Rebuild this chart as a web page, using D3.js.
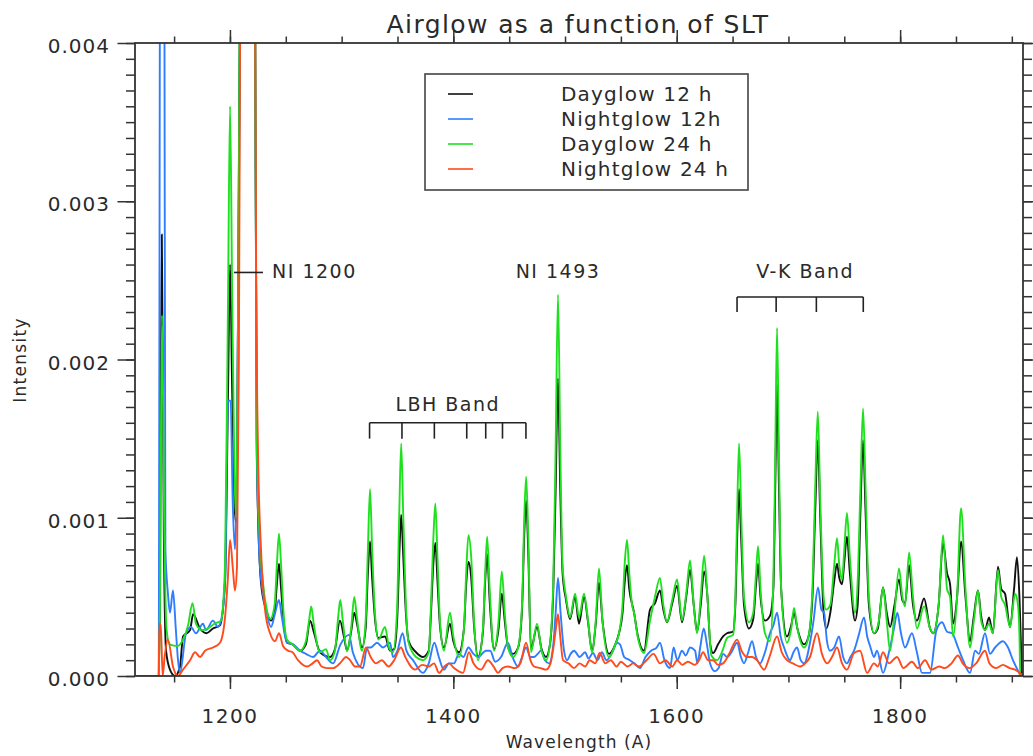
<!DOCTYPE html>
<html><head><meta charset="utf-8">
<script src="https://cdn.jsdelivr.net/npm/d3@7"></script>
<style>
body{margin:0;background:#fff}
svg{display:block}
text{font-family:"DejaVu Sans",sans-serif;fill:#2a2a2a}
</style>
</head><body>
<svg id="chart" width="1033" height="756"></svg>
<script>
// ---------------- DATA ----------------
const seriesNames = ["Dayglow 12 h", "Nightglow 12h", "Dayglow 24 h", "Nightglow 24 h"];
const xMajorTicks = [1200, 1400, 1600, 1800];
const xTickLabels = ["1200", "1400", "1600", "1800"];
const yMajorTicks = [0, 0.001, 0.002, 0.003, 0.004];
const yTickLabels = ["0.000", "0.001", "0.002", "0.003", "0.004"];
const lbhMarks = [1325, 1354, 1383, 1412, 1429, 1444, 1465];
const vkMarks = [1654, 1689, 1725, 1767];

// [wavelength (A), intensity]
const dayglow12 = [[1115,0],[1136.3,0],[1137.3,0.0005],[1139,0.00279],[1140.8,0.0009],[1142.8,0.00016],[1146.3,0.00004],[1150.8,0],[1155.3,0.00006],[1158,0.00025],[1164.3,0.00029],[1167,0.00039],[1173.2,0.0003],[1179,0.00027],[1184.8,0.0003],[1191.1,0.00032],[1195.6,0.0006],[1198.3,0.0018],[1200.1,0.0026],[1202,0.0018],[1204,0.0011],[1205.4,0.00097],[1207,0.002],[1209,0.0045],[1216,0.012],[1222.4,0.0045],[1224,0.0014],[1227.8,0.00059],[1232.3,0.00042],[1236.8,0.00035],[1240,0.0004],[1242,0.00058],[1243.9,0.00071],[1245.8,0.00055],[1248,0.00035],[1251.1,0.00021],[1256,0.0002],[1262.7,0.00016],[1268,0.0002],[1271.7,0.00035],[1275,0.00028],[1280.6,0.00015],[1289.6,0.00012],[1294,0.00017],[1298.5,0.00035],[1302,0.00025],[1304.8,0.00016],[1308.5,0.00028],[1311.3,0.0004],[1314,0.00032],[1318.2,0.00018],[1321.5,0.0003],[1323.5,0.00065],[1325.4,0.00085],[1327.3,0.00062],[1330,0.00035],[1333,0.00024],[1338.8,0.00025],[1343.3,0.00016],[1347,0.00017],[1350,0.0004],[1351.8,0.0008],[1353.3,0.00102],[1355.2,0.00075],[1357.5,0.0004],[1360,0.00022],[1366.6,0.00015],[1372.8,0.00012],[1378,0.00016],[1380,0.0004],[1382,0.0007],[1383.9,0.00084],[1385.8,0.0006],[1388,0.00032],[1391.6,0.00018],[1397,0.00033],[1400,0.00022],[1405.1,0.00015],[1409.5,0.0003],[1411.5,0.00058],[1413.5,0.00072],[1416,0.00062],[1418.5,0.00032],[1422.1,0.00012],[1426.5,0.00028],[1428.5,0.0006],[1430.3,0.00077],[1432.5,0.00048],[1436.4,0.00017],[1440.5,0.0003],[1443.4,0.00052],[1446,0.00035],[1449,0.00018],[1453.4,0.00014],[1458,0.00018],[1461.5,0.00042],[1463.5,0.0009],[1465.2,0.00111],[1467,0.0008],[1469.5,0.00017],[1474.9,0.00031],[1479,0.00017],[1483,0.00012],[1486.5,0.0002],[1489.5,0.00055],[1491.5,0.00115],[1493.7,0.00188],[1495.8,0.00115],[1497.8,0.00065],[1500.9,0.00048],[1504.5,0.00036],[1509,0.0005],[1512.5,0.00033],[1517,0.0005],[1520.6,0.00034],[1524.1,0.00016],[1527.5,0.00033],[1530.4,0.00059],[1533.5,0.00035],[1539.4,0.00014],[1545,0.0002],[1548.3,0.00027],[1551.5,0.0004],[1553.5,0.0006],[1555.5,0.0007],[1557.5,0.00055],[1561.8,0.0004],[1565,0.00026],[1570.7,0.00016],[1576.1,0.00042],[1580.5,0.00046],[1585,0.00054],[1588,0.00042],[1591.3,0.00034],[1596,0.00046],[1600.3,0.00057],[1604.7,0.00034],[1608.5,0.0005],[1611.9,0.00067],[1615.2,0.00045],[1618.2,0.00028],[1621.5,0.00045],[1624.5,0.00066],[1627.5,0.0005],[1630,0.0002],[1632.5,0.000145],[1637,0.0002],[1641.5,0.00025],[1645,0.00027],[1650.4,0.00028],[1652.5,0.00045],[1654,0.00085],[1655.8,0.00118],[1657.8,0.00085],[1660.2,0.00045],[1664.7,0.0003],[1668.5,0.00036],[1671,0.00058],[1672.8,0.00071],[1675,0.0005],[1679,0.00035],[1683.5,0.00038],[1686.5,0.00055],[1688.2,0.0012],[1689.8,0.00184],[1691.5,0.0012],[1693.5,0.00055],[1698.7,0.00025],[1702.5,0.00032],[1705,0.0004],[1708,0.0003],[1714,0.0002],[1718,0.00025],[1721.5,0.0005],[1724,0.00105],[1726.3,0.00149],[1728.5,0.001],[1731.5,0.0004],[1734,0.0003],[1737.5,0.0004],[1741,0.0006],[1743.5,0.00071],[1745.5,0.00062],[1748,0.00058],[1750,0.00072],[1752.4,0.00088],[1755,0.00065],[1759.6,0.00035],[1762,0.00045],[1764.5,0.00105],[1766.8,0.00149],[1769,0.00105],[1772,0.00045],[1776.6,0.00027],[1780,0.0003],[1784.7,0.00056],[1788,0.0004],[1791,0.00031],[1795,0.00045],[1799,0.00061],[1802,0.00048],[1804.4,0.00046],[1808,0.0007],[1811.5,0.00045],[1815.1,0.00035],[1821.4,0.00049],[1826.8,0.0003],[1829.5,0.00027],[1834.5,0.00045],[1838.4,0.00084],[1842,0.00065],[1844.7,0.00058],[1847.4,0.00033],[1851,0.0005],[1854.5,0.00085],[1858.5,0.0005],[1862.6,0.00022],[1866,0.00038],[1869.7,0.00054],[1872.5,0.00038],[1876,0.00029],[1879.6,0.00037],[1883,0.00027],[1887.6,0.00069],[1890.5,0.00055],[1893.9,0.00052],[1898.4,0.00031],[1902,0.00055],[1904.6,0.00075],[1906.8,0.0005],[1908.6,0.0001],[1909,0],[1910,0]];

const nightglow12 = [[1115,0],[1136.3,0],[1137.3,0.0045],[1139.3,0.008],[1141.3,0.0045],[1142.2,0.0008],[1144.5,0.00052],[1146.3,0.0004],[1149,0.00054],[1151.5,0.0003],[1153.5,0.0001],[1155.3,0.00002],[1160.7,0.00027],[1165,0.00031],[1169.6,0.00027],[1175.9,0.00033],[1178.6,0.00029],[1184.8,0.00035],[1189.3,0.00031],[1192,0.00035],[1195.6,0.0006],[1198.3,0.00174],[1200.6,0.00174],[1202.5,0.0011],[1204.5,0.0008],[1206,0.0012],[1208,0.003],[1209.5,0.0045],[1216,0.012],[1222.4,0.0045],[1224,0.0015],[1226.9,0.00069],[1232.3,0.00042],[1236.8,0.00031],[1240.5,0.0004],[1243.9,0.00048],[1246.5,0.00037],[1251.1,0.00021],[1256.5,0.0002],[1262.7,0.00016],[1268,0.00014],[1274.4,0.00012],[1280.6,0.00016],[1286,0.00012],[1292.3,0.00008],[1299,0.0002],[1306.5,0.00026],[1310.2,0.000145],[1319.1,0.00005],[1322.7,0.00018],[1326,0.00018],[1331.7,0.00021],[1337,0.00018],[1343.3,0.00021],[1346,0.00012],[1350,0.00016],[1354.5,0.00027],[1358,0.00016],[1363.9,0.0001],[1372.8,0.00002],[1378,0.00008],[1383,0.00021],[1387,0.00012],[1391.6,0.00004],[1396,0.00008],[1400.6,0.00008],[1405,0.00014],[1409,0.00012],[1413.5,0.00018],[1418,0.00014],[1422.1,0.00012],[1429.2,0.00016],[1433,0.00016],[1437.5,0.00009],[1442.7,0.00012],[1448.9,0.00021],[1453,0.00012],[1457.9,0.00006],[1461.5,0.00012],[1465.1,0.00018],[1469,0.00012],[1472.2,0.00012],[1475.5,0.00014],[1478.5,0.00016],[1482,0.0001],[1485.7,0.00008],[1489.5,0.0002],[1491.6,0.0004],[1493.7,0.00062],[1496,0.0004],[1499.1,0.00016],[1501.8,0.0001],[1505,0.00014],[1508.1,0.00016],[1513,0.00012],[1518,0.00015],[1521,0.00011],[1525,0.000145],[1529,0.0001],[1533,0.00015],[1537,0.0001],[1543,0.00016],[1546.5,0.00021],[1549.2,0.0002],[1553,0.00012],[1558,0.0001],[1562,0.00008],[1567.1,0.00005],[1572,0.00012],[1577,0.00016],[1582,0.00018],[1585,0.00021],[1589,0.0001],[1594,0.00005],[1597.2,0.00018],[1600.5,0.0001],[1604.7,0.00016],[1608,0.00013],[1612,0.00018],[1616.4,0.00016],[1618.5,0.00008],[1621,0.00018],[1624.2,0.0003],[1627,0.0002],[1629.8,0.00008],[1634,0.00003],[1637.5,0.00005],[1641.5,0.00014],[1645,0.00012],[1649,0.00015],[1654,0.00021],[1657.5,0.00012],[1660.2,0.00008],[1664,0.00015],[1667.4,0.00022],[1671,0.00012],[1674.6,0.00008],[1679,0.00015],[1683.5,0.00027],[1686.5,0.00032],[1689.8,0.0004],[1693,0.00025],[1696.1,0.00018],[1701.4,0.0001],[1704.5,0.00015],[1707.7,0.00018],[1711,0.0001],[1714,0.00008],[1719.3,0.00021],[1722.5,0.00035],[1726.5,0.00056],[1729.5,0.00042],[1731.9,0.0004],[1734.5,0.00022],[1737.2,0.00016],[1741,0.00018],[1745.3,0.00025],[1749,0.00012],[1752.4,0.00008],[1755.5,0.00012],[1758.7,0.00016],[1763,0.00026],[1767.7,0.00037],[1770.5,0.00025],[1773.1,0.00019],[1776.6,0.00012],[1779.3,0.00016],[1784.7,0.00002],[1790,0.00015],[1794.5,0.0003],[1797.5,0.0004],[1800.5,0.00028],[1804.4,0.00018],[1810.6,0.00027],[1815,0.00015],[1819.6,0.00002],[1826.8,0.00002],[1832.5,0.00029],[1837.5,0.00034],[1842,0.00028],[1846.5,0.00027],[1851.8,0.00018],[1856.3,0.0001],[1862.6,0.00002],[1867.1,0.00016],[1870.5,0.00014],[1876,0.00027],[1880.5,0.00014],[1885,0.00018],[1892,0.00022],[1896.6,0.00018],[1901,0.0001],[1906.5,0.00002],[1908,0],[1910,0]];

const dayglow24 = [[1115,0],[1136.3,0],[1137.2,0.00035],[1139.2,0.00228],[1141.3,0.0009],[1143.2,0.0003],[1146,0.0002],[1153,0.00019],[1158,0.00023],[1162.5,0.00032],[1166.5,0.00046],[1169.6,0.00033],[1175,0.00029],[1180,0.0003],[1186,0.00033],[1192,0.00035],[1195.6,0.0007],[1198.3,0.0024],[1200.1,0.0036],[1202,0.0024],[1204,0.0013],[1205.4,0.001],[1207,0.002],[1209,0.0045],[1216,0.012],[1222.4,0.0045],[1224,0.0015],[1226.5,0.0009],[1229.6,0.00059],[1233,0.00042],[1236,0.00036],[1240,0.00045],[1242,0.0007],[1243.9,0.0009],[1245.8,0.0007],[1248,0.0004],[1251.1,0.00023],[1256,0.0002],[1262.7,0.00016],[1268,0.00022],[1271,0.00036],[1272.8,0.00044],[1275,0.00033],[1280.6,0.00015],[1286,0.00017],[1289.6,0.0001],[1294,0.00016],[1297,0.00038],[1298.8,0.00048],[1301,0.00035],[1304.8,0.00016],[1308.5,0.0003],[1311.3,0.0005],[1313.5,0.00038],[1318.2,0.00016],[1321.5,0.00035],[1323.5,0.0008],[1325.4,0.00118],[1327.3,0.0008],[1330,0.00038],[1333,0.00023],[1338.8,0.00031],[1342.5,0.00018],[1346,0.00015],[1349.5,0.0004],[1351.5,0.001],[1353.3,0.00147],[1355.2,0.001],[1357.5,0.00045],[1360,0.00021],[1366.6,0.00012],[1372.8,0.0001],[1378,0.00015],[1380,0.00045],[1382,0.00085],[1383.9,0.00109],[1385.8,0.00075],[1388,0.00035],[1391.6,0.00016],[1397,0.0004],[1400,0.00025],[1405.1,0.00012],[1409.5,0.0003],[1411.5,0.00065],[1413.5,0.00089],[1416,0.00075],[1418.5,0.00035],[1422.1,0.0001],[1426.5,0.0003],[1428.5,0.00065],[1430.3,0.00088],[1432.5,0.00055],[1436.4,0.00016],[1440.5,0.00035],[1443.4,0.00066],[1446,0.0004],[1449,0.00018],[1453.4,0.00012],[1458,0.00018],[1461.5,0.00045],[1463.5,0.001],[1465.2,0.00126],[1467,0.0009],[1469.5,0.00015],[1474.9,0.00033],[1479,0.00016],[1483,0.0001],[1486.5,0.0002],[1489.5,0.0006],[1491.5,0.0014],[1493.7,0.00241],[1495.8,0.0014],[1497.8,0.0007],[1500.9,0.0005],[1504.5,0.00037],[1509,0.00052],[1512.5,0.00037],[1517,0.00052],[1520.6,0.00035],[1524.1,0.00015],[1527.5,0.00035],[1530.4,0.00068],[1533.5,0.00035],[1539.4,0.00012],[1545,0.0002],[1548.3,0.00027],[1551.5,0.00045],[1553.5,0.00072],[1555.5,0.00086],[1557.5,0.00065],[1560,0.00045],[1561.8,0.0004],[1565,0.00025],[1570.7,0.000145],[1576.1,0.00035],[1580.5,0.0005],[1585,0.00062],[1588,0.00045],[1591.3,0.00034],[1596,0.00048],[1600.3,0.00061],[1604.7,0.00035],[1608.5,0.00052],[1611.9,0.00073],[1615.2,0.00045],[1618.2,0.00027],[1621.5,0.0005],[1624.5,0.00076],[1627.5,0.0005],[1631,0.00013],[1636,0.0001],[1641,0.00016],[1645,0.00024],[1650.4,0.00026],[1652.5,0.0005],[1654,0.001],[1655.8,0.00147],[1657.8,0.001],[1660.2,0.0005],[1664.7,0.00034],[1668.5,0.0004],[1671,0.00065],[1672.8,0.00082],[1675,0.00055],[1679,0.00027],[1683.5,0.00022],[1686.5,0.0006],[1688.2,0.0014],[1689.8,0.0022],[1691.5,0.0014],[1693.5,0.00055],[1698.7,0.00021],[1702.5,0.0003],[1705,0.00043],[1708,0.0003],[1714,0.00018],[1718,0.00025],[1721.5,0.00055],[1724,0.0012],[1726.3,0.00167],[1728.5,0.0011],[1731.5,0.0005],[1733.5,0.00042],[1737.5,0.00045],[1741,0.0007],[1743.5,0.00087],[1745.5,0.0007],[1748,0.00061],[1750,0.0008],[1752.4,0.00103],[1755,0.00075],[1759.6,0.0004],[1762,0.0006],[1764.5,0.0012],[1766.8,0.00169],[1769,0.0012],[1772,0.0005],[1776.6,0.00027],[1781,0.00035],[1784.7,0.00056],[1788,0.00035],[1791,0.00016],[1795,0.0004],[1799,0.00068],[1802,0.0005],[1804.4,0.00044],[1808,0.00078],[1811.5,0.0005],[1815.1,0.0003],[1821.4,0.00044],[1826.8,0.0003],[1829.5,0.00027],[1834.5,0.00045],[1838.4,0.00089],[1842,0.00055],[1844.7,0.0005],[1847.4,0.00025],[1851,0.0005],[1854.5,0.00106],[1858.5,0.00055],[1862.6,0.00018],[1866,0.00035],[1869.7,0.00054],[1872.5,0.00035],[1876,0.00029],[1879.6,0.00033],[1883,0.00027],[1887.6,0.00067],[1890.5,0.0005],[1893.9,0.00045],[1898.4,0.00031],[1902.9,0.00052],[1905.5,0.00045],[1907,0.0002],[1907.5,0],[1910,0]];

const nightglow24 = [[1115,0],[1136.1,0],[1136.9,0.00033],[1138,0.00033],[1139.8,0],[1141.5,0.00012],[1144.5,0.00023],[1149,0.00006],[1153.5,0],[1157.9,0.00004],[1164.3,0.0001],[1168.8,0.00015],[1173.2,0.00012],[1177.7,0.00016],[1184.8,0.00018],[1191.1,0.00021],[1195.6,0.00037],[1198,0.0006],[1200.1,0.00086],[1202.7,0.00067],[1204.5,0.00054],[1206.3,0.00069],[1208,0.002],[1209.3,0.0045],[1216,0.012],[1222.4,0.0045],[1223.5,0.0025],[1225.1,0.00143],[1227.8,0.0008],[1231.4,0.00042],[1235.9,0.00027],[1240.3,0.00022],[1244,0.00027],[1247.5,0.00019],[1252,0.00016],[1256,0.00015],[1260.9,0.0001],[1269,0.00006],[1274,0.00008],[1278,0.0001],[1282,0.00006],[1286.9,0.00005],[1292.3,0.00005],[1298.5,0.00008],[1304,0.00012],[1307.5,0.0001],[1312,0.00006],[1316.4,0.00006],[1321.8,0.00018],[1326,0.00012],[1330.8,0.00008],[1336,0.0001],[1342,0.00006],[1347,0.0001],[1353.1,0.00018],[1357,0.00012],[1365.7,0.00004],[1372,0.00007],[1378.2,0.00006],[1382.7,0.00008],[1387.2,0.00002],[1392,0.00006],[1396.1,0.00008],[1400.6,0.00005],[1408.7,0.00002],[1414,0.00015],[1418,0.00008],[1424.8,0.00004],[1431,0.0001],[1436,0.00006],[1440,0.00002],[1444,0.00005],[1448.9,0.00006],[1455,0.00005],[1460,0.00008],[1465.1,0.00021],[1469,0.0001],[1472.2,0.00006],[1478,0.00005],[1483,0.00004],[1487,0.00008],[1490,0.0002],[1491.8,0.0003],[1493.7,0.00039],[1495.7,0.00025],[1498.2,0.0001],[1503,0.00008],[1508,0.00005],[1513,0.00008],[1518,0.00006],[1522,0.0001],[1527,0.00008],[1531,0.000145],[1536,0.00008],[1541,0.0001],[1546,0.00006],[1550,0.00009],[1556,0.00006],[1561,0.00008],[1566,0.00006],[1573,0.0001],[1579.2,0.00014],[1585,0.00008],[1590,0.0001],[1596,0.00006],[1600.3,0.0001],[1605,0.00007],[1610,0.00009],[1616,0.00007],[1620,0.0001],[1623.6,0.00015],[1628,0.0001],[1632.5,0.0001],[1637,0.00007],[1641.5,0.00008],[1647,0.00014],[1654,0.00023],[1658,0.00016],[1662.9,0.00012],[1667.4,0.00012],[1671.9,0.0001],[1678.2,0.00004],[1683,0.00012],[1689.8,0.00025],[1694,0.00015],[1698.7,0.0001],[1704,0.00008],[1710.4,0.00006],[1715,0.00008],[1719.3,0.00012],[1725.6,0.00027],[1730,0.00014],[1734.6,0.00008],[1739,0.00012],[1743.5,0.00018],[1748,0.00008],[1752.4,0.00004],[1758.7,0.000145],[1764.1,0.00016],[1770.4,0.00002],[1776.6,0.00008],[1780,0.00006],[1784.7,0.00015],[1790,0.00008],[1797.2,0.00012],[1803,0.00005],[1810.6,0.00009],[1816,0.00005],[1822.3,0.0001],[1828,0.00004],[1835,0.00006],[1840,0.00005],[1846,0.00008],[1851.8,0.00013],[1856,0.00008],[1862,0.00005],[1868,0.00008],[1876,0.00016],[1880,0.00008],[1886,0.00005],[1892,0.00007],[1898,0.00005],[1902.9,0.00004],[1907,0.00002],[1910,0]];

// ---------------- CHART ----------------
const W = 1033, H = 756;
const plot = {left: 135, right: 1023, top: 43, bottom: 676};
const x = d3.scaleLinear().domain([1115, 1910]).range([plot.left, plot.right]);
const y = d3.scaleLinear().domain([0, 0.004]).range([plot.bottom, plot.top]);

const svg = d3.select("#chart");
svg.append("rect").attr("width", W).attr("height", H).attr("fill", "#fff");

svg.append("defs").append("clipPath").attr("id", "plotclip")
  .append("rect").attr("x", plot.left).attr("y", plot.top)
  .attr("width", plot.right - plot.left).attr("height", plot.bottom - plot.top);

const colors = ["#111111", "#2f7dff", "#1fe01f", "#ff4a1c"];
const seriesData = [dayglow12, nightglow12, dayglow24, nightglow24];

const line = d3.line().x(d => x(d[0])).y(d => y(d[1])).curve(d3.curveMonotoneX);
const gLines = svg.append("g").attr("clip-path", "url(#plotclip)");
seriesData.forEach((data, i) => {
  gLines.append("path").datum(data)
    .attr("d", line)
    .attr("fill", "none")
    .attr("stroke", colors[i])
    .attr("stroke-width", 1.9)
    .attr("stroke-linejoin", "round");
});

// axes
const axisColor = "#333";
const xMinor = d3.range(1150, 1901, 50);
const yMinor = d3.range(0, 41).map(i => i * 0.0001);

function styleAxis(g) {
  g.select(".domain").remove();
  g.selectAll(".tick line").attr("stroke", axisColor).attr("stroke-width", 1.5);
  g.selectAll("text").remove();
}
svg.append("g").attr("transform", `translate(0,${plot.bottom})`)
  .call(d3.axisBottom(x).tickValues(xMinor).tickSize(6.5).tickFormat("")).call(styleAxis);
svg.append("g").attr("transform", `translate(0,${plot.bottom})`)
  .call(d3.axisBottom(x).tickValues(xMajorTicks).tickSize(13).tickFormat("")).call(styleAxis);
svg.append("g").attr("transform", `translate(0,${plot.top})`)
  .call(d3.axisTop(x).tickValues(xMinor).tickSize(6.5).tickFormat("")).call(styleAxis);
svg.append("g").attr("transform", `translate(0,${plot.top})`)
  .call(d3.axisTop(x).tickValues(xMajorTicks).tickSize(13).tickFormat("")).call(styleAxis);
svg.append("g").attr("transform", `translate(${plot.left},0)`)
  .call(d3.axisLeft(y).tickValues(yMinor).tickSize(9).tickFormat("")).call(styleAxis);
svg.append("g").attr("transform", `translate(${plot.left},0)`)
  .call(d3.axisLeft(y).tickValues(yMajorTicks).tickSize(17.5).tickFormat("")).call(styleAxis);
svg.append("g").attr("transform", `translate(${plot.right},0)`)
  .call(d3.axisRight(y).tickValues(yMinor).tickSize(9).tickFormat("")).call(styleAxis);
svg.append("g").attr("transform", `translate(${plot.right},0)`)
  .call(d3.axisRight(y).tickValues(yMajorTicks).tickSize(17.5).tickFormat("")).call(styleAxis);

svg.append("rect")
  .attr("x", plot.left).attr("y", plot.top)
  .attr("width", plot.right - plot.left).attr("height", plot.bottom - plot.top)
  .attr("fill", "none").attr("stroke", axisColor).attr("stroke-width", 1.8);

// tick labels
svg.append("g").selectAll("text").data(xMajorTicks).join("text")
  .attr("x", d => x(d)).attr("y", 716)
  .attr("text-anchor", "middle").attr("dominant-baseline", "central")
  .style("font-size", "20px").style("letter-spacing", "1.5px")
  .text((d, i) => xTickLabels[i]);
svg.append("g").selectAll("text").data(yMajorTicks).join("text")
  .attr("x", 110).attr("y", d => y(d) + 3)
  .attr("text-anchor", "end").attr("dominant-baseline", "central")
  .style("font-size", "20px").style("letter-spacing", "1px")
  .text((d, i) => yTickLabels[i]);

// titles
svg.append("text").attr("x", 578).attr("y", 24)
  .attr("text-anchor", "middle").attr("dominant-baseline", "central")
  .style("font-size", "25px").style("letter-spacing", "1.4px")
  .text("Airglow as a function of SLT");
svg.append("text").attr("x", 579).attr("y", 742)
  .attr("text-anchor", "middle").attr("dominant-baseline", "central")
  .style("font-size", "17px").style("letter-spacing", "1.1px")
  .text("Wavelength (A)");
svg.append("text").attr("transform", "translate(20,360) rotate(-90)")
  .attr("text-anchor", "middle").attr("dominant-baseline", "central")
  .style("font-size", "17px").style("letter-spacing", "1.3px")
  .text("Intensity");

// legend
const lg = svg.append("g");
lg.append("rect").attr("x", 425).attr("y", 74).attr("width", 323).attr("height", 116)
  .attr("fill", "#fff").attr("stroke", "#444").attr("stroke-width", 1.6);
seriesNames.forEach((name, i) => {
  const ry = 94 + i * 25;
  lg.append("line").attr("x1", 448).attr("x2", 473).attr("y1", ry).attr("y2", ry)
    .attr("stroke", colors[i]).attr("stroke-width", 1.6);
  lg.append("text").attr("x", 561).attr("y", ry)
    .attr("dominant-baseline", "central")
    .style("font-size", "20px").style("letter-spacing", "1.2px")
    .text(name);
});

// annotations
const ann = svg.append("g");
const annStroke = {stroke: "#222", width: 1.6};
function bracket(marks, topV, botV) {
  const yt = y(topV), yb = y(botV);
  ann.append("line").attr("x1", x(marks[0])).attr("x2", x(marks[marks.length - 1]))
    .attr("y1", yt).attr("y2", yt).attr("stroke", annStroke.stroke).attr("stroke-width", annStroke.width);
  marks.forEach(m => {
    ann.append("line").attr("x1", x(m)).attr("x2", x(m)).attr("y1", yt).attr("y2", yb)
      .attr("stroke", annStroke.stroke).attr("stroke-width", annStroke.width);
  });
}
function label(txt, lx, v, anchor) {
  ann.append("text").attr("x", lx).attr("y", y(v))
    .attr("text-anchor", anchor).attr("dominant-baseline", "central")
    .style("font-size", "19px").style("letter-spacing", "1.5px").text(txt);
}
bracket(lbhMarks, 0.0016, 0.0015);
label("LBH Band", (x(lbhMarks[0]) + x(lbhMarks[lbhMarks.length - 1])) / 2, 0.00172, "middle");
bracket(vkMarks, 0.002395, 0.0023);
label("V-K Band", (x(vkMarks[0]) + x(vkMarks[vkMarks.length - 1])) / 2 + 5, 0.00256, "middle");
label("NI 1493", x(1493.7), 0.00256, "middle");
ann.append("line").attr("x1", x(1203.6)).attr("x2", x(1229.6))
  .attr("y1", y(0.00255)).attr("y2", y(0.00255))
  .attr("stroke", annStroke.stroke).attr("stroke-width", annStroke.width);
label("NI 1200", x(1237.7), 0.00256, "start");
</script>
</body></html>
